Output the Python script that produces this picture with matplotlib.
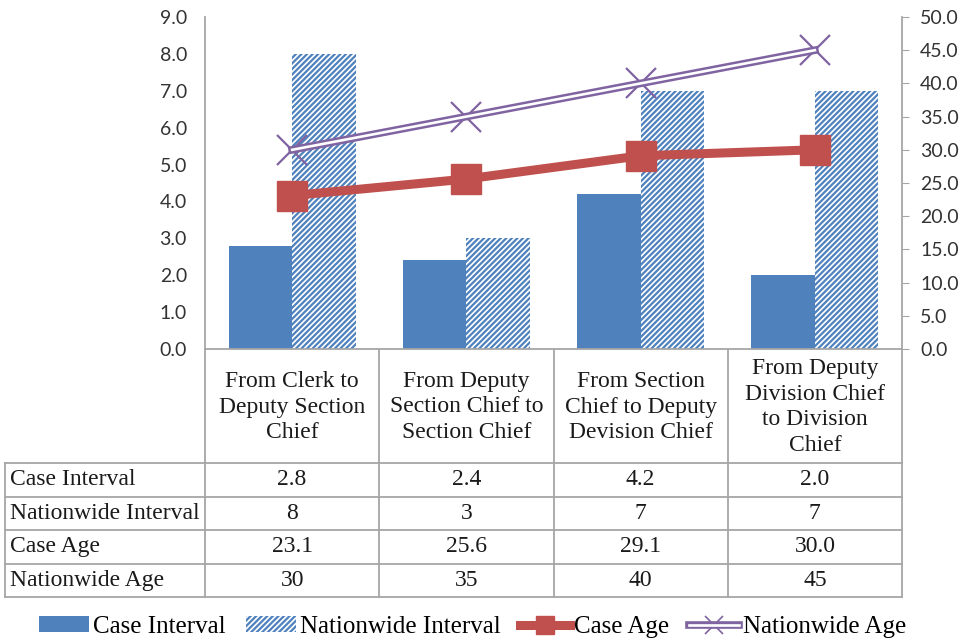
import matplotlib.pyplot as plt
import numpy as np
from matplotlib.lines import Line2D
from matplotlib.patches import Patch

# datos
etapas = ["From Clerk to\nDeputy Section\nChief",
          "From Deputy\nSection Chief to\nSection Chief",
          "From Section\nChief to Deputy\nDevision Chief",
          "From Deputy\nDivision Chief\nto Division\nChief"]
case_interval = [2.8, 2.4, 4.2, 2.0]
nation_interval = [8, 3, 7, 7]
case_age = [23.1, 25.6, 29.1, 30.0]
nation_age = [30, 35, 40, 45]

azul = '#4F81BD'
rojo = '#C0504D'
morado = '#8064A2'
gris = '#A6A6A6'
serif = 'Liberation Serif'

plt.rcParams['hatch.linewidth'] = 1.6

W, H = 965, 642
fig = plt.figure(figsize=(W / 100, H / 100), dpi=100)

# capa para la tabla en coordenadas de pixel
tab = fig.add_axes([0, 0, 1, 1])
tab.set_xlim(0, W)
tab.set_ylim(H, 0)
tab.axis('off')

x0, x1 = 205, 902
y_ax = 349
ax = fig.add_axes([x0 / W, 1 - y_ax / H, (x1 - x0) / W, (y_ax - 17) / H])
ax2 = ax.twinx()

x = np.arange(len(etapas))
w = 0.365
ax.bar(x - w / 2, case_interval, w, color=azul, zorder=2)
ax.bar(x + w / 2, nation_interval, w, facecolor='white', edgecolor=azul,
       linewidth=0, hatch='//////', zorder=2)
ax.set_xlim(-0.5, len(etapas) - 0.5)
ax.set_ylim(0, 9)
ax.set_yticks(np.arange(0, 9.1, 1))
ax.set_yticklabels([f"{v:.1f}" for v in np.arange(0, 9.1, 1)])
ax.set_xticks([])
ax.tick_params(axis='y', length=0, pad=13, labelsize=14, labelcolor='#333333')
for lab in ax.get_yticklabels():
    lab.set_fontfamily('Lato')

# lineas de edad
ax2.plot(x, case_age, color=rojo, linewidth=6.5, marker='s', markersize=21,
         zorder=3)
ax2.plot(x, nation_age, color=morado, linewidth=5.5, marker='x',
         markersize=22, markeredgewidth=1.6, zorder=4)
ax2.plot(x, nation_age, color='white', linewidth=1.9, zorder=5)
ax2.set_ylim(0, 50)
ax2.set_yticks(np.arange(0, 50.1, 5))
ax2.set_yticklabels([f"{v:.1f}" for v in np.arange(0, 50.1, 5)])
ax2.tick_params(axis='y', length=5, color=gris, pad=8, labelsize=14,
                labelcolor='#333333')
for lab in ax2.get_yticklabels():
    lab.set_fontfamily('Lato')

for a in (ax, ax2):
    a.spines['top'].set_visible(False)
    for s in ('left', 'right', 'bottom'):
        a.spines[s].set_color(gris)
        a.spines[s].set_linewidth(1.3)
ax.spines['right'].set_visible(False)
ax2.spines['left'].set_visible(False)
ax2.spines['bottom'].set_visible(False)

# tabla de datos
filas = ["Case Interval", "Nationwide Interval", "Case Age", "Nationwide Age"]
valores = [[f"{v:.1f}" for v in case_interval],
           [f"{v:d}" for v in nation_interval],
           [f"{v:.1f}" for v in case_age],
           [f"{v:d}" for v in nation_age]]
ys = [463, 496.5, 530, 563.5, 597]
xs = np.linspace(x0, x1, len(etapas) + 1)
lk = dict(color=gris, linewidth=1.3)
for xv in xs:
    tab.plot([xv, xv], [y_ax, ys[-1]], **lk)
tab.plot([5, 5], [ys[0], ys[-1]], **lk)
for yv in ys:
    tab.plot([5, x1], [yv, yv], **lk)
for i, txt in enumerate(etapas):
    cx = (xs[i] + xs[i + 1]) / 2
    tab.text(cx, (y_ax + ys[0]) / 2 + 1, txt, ha='center', va='center',
             fontsize=17, family=serif, linespacing=1.3, color='#1a1a1a')
for r, nombre in enumerate(filas):
    cy = (ys[r] + ys[r + 1]) / 2
    tab.text(10, cy, nombre, ha='left', va='center', fontsize=17,
             family=serif, color='#1a1a1a')
    for i, v in enumerate(valores[r]):
        cx = (xs[i] + xs[i + 1]) / 2
        tab.text(cx, cy, v, ha='center', va='center', fontsize=17,
                 family=serif, color='#1a1a1a')

# leyenda
h1 = Patch(facecolor=azul)
h2 = Patch(facecolor='white', edgecolor=azul, linewidth=0, hatch='//////')
h3 = Line2D([], [], color=rojo, linewidth=6.5, marker='s', markersize=13)
h4 = (Line2D([], [], color=morado, linewidth=5.5, marker='x', markersize=13,
             markeredgewidth=1.2),
      Line2D([], [], color='white', linewidth=1.9))
fig.legend([h1, h2, h3, h4],
           ["Case Interval", "Nationwide Interval", "Case Age", "Nationwide Age"],
           loc='center', bbox_to_anchor=(0.49, 1 - 627 / H), ncol=4,
           frameon=False, prop={'family': serif, 'size': 18},
           handlelength=2.0, handletextpad=0.15, columnspacing=0.8,
           handleheight=0.6)

plt.savefig("out.png", dpi=100)
